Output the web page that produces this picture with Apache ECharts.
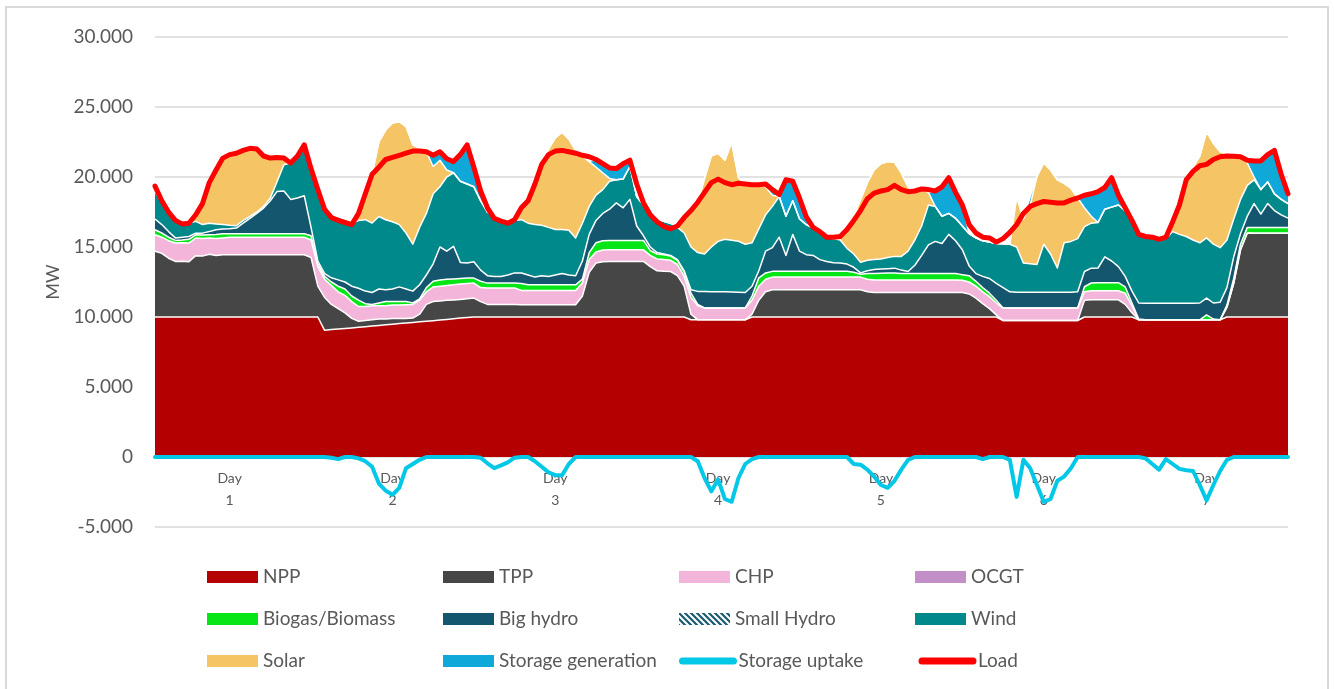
<!DOCTYPE html>
<html>
<head>
<meta charset="utf-8">
<script src="https://cdn.jsdelivr.net/npm/echarts@6/dist/echarts.min.js"></script>
<style>
  html, body { margin: 0; padding: 0; background: #fff; }
  #chart { width: 1334px; height: 689px; }
</style>
</head>
<body>
<div id="chart"></div>
<script>
// one week, hourly values (MW)
const days = ['1', '2', '3', '4', '5', '6', '7'];

const npp = [
  10000,10000,10000,10000,10000,10000,10000,10000,10000,10000,10000,10000,10000,10000,10000,10000,10000,10000,10000,10000,10000,10000,10000,10000,
  10000,9050,9100,9140,9180,9220,9270,9310,9350,9400,9440,9480,9530,9570,9610,9660,9700,9740,9790,9830,9870,9920,9960,10000,
  10000,10000,10000,10000,10000,10000,10000,10000,10000,10000,10000,10000,10000,10000,10000,10000,10000,10000,10000,10000,10000,10000,10000,10000,
  10000,10000,10000,10000,10000,10000,10000,9800,9800,9800,9800,9800,9800,9800,9800,9800,10000,10000,10000,10000,10000,10000,10000,10000,
  10000,10000,10000,10000,10000,10000,10000,10000,10000,10000,10000,10000,10000,10000,10000,10000,10000,10000,10000,10000,10000,10000,10000,10000,
  10000,10000,10000,10000,10000,9750,9750,9750,9750,9750,9750,9750,9750,9750,9750,9750,9750,10000,10000,10000,10000,10000,10000,10000,
  10000,9800,9800,9800,9800,9800,9800,9800,9800,9800,9800,9800,9800,9800,10000,10000,10000,10000,10000,10000,10000,10000,10000,10000
];
const tpp = [
  4700,4550,4200,3970,3980,3950,4380,4350,4480,4400,4450,4450,4450,4450,4450,4450,4450,4450,4450,4450,4450,4450,4450,4250,
  2200,2350,1800,1460,1120,680,430,440,450,450,410,420,370,330,310,540,1200,1360,1360,1370,1350,1330,1340,1350,
  1100,900,900,900,900,900,880,880,880,880,880,880,880,880,880,1500,3200,3850,3950,3970,3970,3970,3970,3970,
  3970,3600,3300,3260,3250,2950,2200,400,0,0,0,0,0,0,0,0,200,1200,1800,1950,1950,1950,1950,1950,
  1950,1950,1950,1950,1950,1950,1950,1950,1950,1800,1750,1750,1750,1750,1750,1750,1750,1750,1750,1750,1750,1750,1750,1750,
  1650,1350,950,600,150,0,0,0,0,0,0,0,0,0,0,0,0,1200,1230,1230,1230,1230,1230,900,
  300,0,0,0,0,0,0,0,0,0,0,0,0,0,700,2400,4800,6000,5990,5990,5990,5990,5990,5990
];
const chp = [
  1170,1150,1250,1310,1320,1330,1260,1250,1170,1200,1200,1250,1250,1250,1250,1250,1250,1250,1250,1250,1250,1250,1250,1250,
  1400,1300,1350,1200,1250,1200,1050,1000,1000,950,950,950,950,980,980,1000,900,1050,1050,1050,1080,1100,1100,1070,
  1000,1170,1170,1170,1170,1170,1020,1020,1020,1020,1020,1020,1020,1020,1020,950,900,800,830,830,830,830,830,830,
  830,800,850,840,800,800,700,1200,1000,850,850,850,850,850,850,850,1000,1000,900,900,900,900,900,900,
  900,900,900,900,900,900,900,900,900,900,900,900,900,900,900,900,900,900,900,900,900,900,900,870,
  850,850,850,850,850,890,890,890,890,890,890,890,890,890,890,890,890,600,650,650,650,650,650,800,
  500,0,0,0,0,0,0,0,0,0,0,0,0,0,0,0,0,0,0,0,0,0,0,0
];
const ocgt = [];
const biogas = [
  360,300,250,190,200,270,230,250,220,300,300,250,250,250,250,250,250,250,250,250,250,250,250,300,
  200,200,250,400,450,400,450,200,100,200,300,250,250,220,100,100,300,400,450,450,420,400,380,360,
  450,350,350,350,350,350,500,400,400,400,400,400,400,400,400,250,500,650,670,670,670,670,670,670,
  670,350,350,350,300,300,300,300,100,0,0,0,0,0,0,0,300,600,450,410,410,410,410,410,
  410,410,410,410,410,410,410,350,200,400,450,480,490,490,450,450,450,450,450,450,450,450,450,400,
  450,350,300,250,200,0,0,0,0,0,0,0,0,0,0,0,0,360,550,570,570,570,570,450,
  200,50,0,0,0,0,0,0,0,0,0,350,50,0,150,350,400,400,410,410,410,410,410,410
];
const bigHydro = [
  770,600,400,180,200,200,120,140,230,330,330,350,400,750,1100,1450,1830,2350,3020,3050,2450,2550,2710,600,
  200,200,300,450,500,700,850,900,850,1000,850,900,1050,900,850,1000,900,1250,2350,2000,2330,1150,1070,1170,
  800,530,480,480,580,730,740,700,550,650,600,700,800,700,650,1300,1300,1600,1950,2230,2680,2330,2930,1030,
  330,250,100,50,50,50,100,250,930,1180,1150,1150,1150,1130,1110,1100,700,500,1550,1690,2440,1140,2640,1440,
  1190,1140,840,710,620,590,520,350,100,200,300,290,310,350,250,150,600,1300,2050,2300,2150,2800,2350,1780,
  700,550,800,1050,1200,1460,1160,1120,1120,1120,1120,1120,1120,1120,1120,1120,1160,1090,1060,1050,1850,1550,1150,750,
  850,1150,1190,1190,1190,1190,1190,1190,1190,1190,1200,1200,1150,1250,1250,1550,750,800,1700,950,1700,1200,900,660
];
const smallHydro = [];
const wind = [
  2000,1600,1400,1350,1000,950,840,610,600,420,320,250,170,200,130,100,120,200,710,1870,2600,3000,3540,4200,
  5000,4600,4400,4530,4500,4450,4850,5100,4960,5180,5000,4800,4450,4000,3350,4100,4400,5000,4300,5300,5250,5800,5650,5350,
  4950,4550,4300,4100,3950,3750,3810,3700,3750,3600,3500,3250,3150,3200,2700,2700,2000,1800,1700,2000,1650,2050,2350,2100,
  2200,2400,2400,2330,2300,2300,2700,3050,2770,2670,3200,3600,3750,3700,3650,3450,3100,3000,2600,2950,2900,2800,2400,2300,
  2150,1950,2130,1730,1720,1650,1120,950,750,750,700,730,800,840,980,1450,1800,2100,2850,2500,1950,1500,1600,1700,
  2300,2550,2550,2600,2850,3130,3400,3240,2090,2040,1990,3440,2740,1740,3540,3640,3800,3200,3210,3250,3400,3850,4400,4700,
  5050,4900,4760,4710,4560,4610,5110,4910,4760,4510,4300,4300,4200,3900,3400,2700,2450,2200,1700,1750,1550,1200,1100,1040
];
const solar = [
  0,0,0,0,0,0,400,1500,2900,3850,4750,5050,5180,5000,4870,4500,3600,2850,1720,480,0,0,0,0,
  0,0,0,0,0,0,400,1850,3490,5320,6400,7050,7350,7600,7100,5650,4400,1950,1900,500,0,0,0,0,
  0,0,0,0,0,200,850,1600,2900,4350,5600,6550,6950,6500,6250,4800,3200,2000,1200,200,0,0,0,0,
  0,0,0,0,0,100,1100,2600,3600,5400,6500,6300,5650,7000,4550,4250,4150,3150,2000,800,0,0,0,0,
  0,0,0,0,0,250,1400,2700,4500,5550,6400,6800,6850,6720,5970,4600,3500,2650,900,0,0,0,0,0,
  0,0,0,0,0,0,0,3600,3150,4200,6290,5800,6000,6300,4250,3800,2900,1350,500,0,0,0,0,0,
  0,0,0,0,0,100,700,2100,4250,5200,6200,7550,7200,6850,6150,4580,3000,1600,200,0,0,0,0,0
];
const storageGen = [
  0,0,0,0,0,0,0,0,0,0,0,0,0,0,0,0,0,0,0,0,0,0,0,0,
  0,0,0,0,0,0,0,0,0,0,0,0,0,0,0,0,0,800,600,800,800,1900,2800,1400,
  700,0,0,0,0,0,0,0,0,0,0,0,0,0,0,0,0,550,650,750,800,1100,450,0,
  0,0,0,0,0,0,0,0,0,0,0,0,0,0,0,0,0,0,200,400,150,2600,1400,1500,
  550,0,0,0,0,0,0,0,0,0,0,0,0,0,0,0,0,0,0,1100,2100,2550,1850,1500,
  0,0,0,0,0,0,0,0,0,600,0,0,0,0,0,0,0,1000,1800,2200,1450,2050,700,200,
  0,0,0,0,0,0,0,0,0,0,0,200,0,0,0,0,0,200,1150,2050,1950,3100,1800,700
];
const storageUptake = [
  0,0,0,0,0,0,0,0,0,0,0,0,0,0,0,0,0,0,0,0,0,0,0,0,
  0,0,-50,-150,0,0,-100,-300,-700,-1900,-2400,-2700,-2200,-800,-500,-200,0,0,0,0,0,0,0,0,
  -50,-450,-790,-600,-380,-50,0,0,-300,-700,-1100,-1300,-1300,-500,0,0,0,0,0,0,0,0,0,0,
  0,0,0,0,0,0,0,0,-300,-1500,-2450,-1600,-3000,-3200,-1500,-500,-150,0,0,0,0,0,0,0,
  0,0,0,0,0,0,0,-500,-550,-900,-1400,-2000,-2200,-1700,-900,-200,0,0,0,0,0,0,0,0,
  0,0,-150,0,0,0,-200,-2850,-200,-800,-2000,-3200,-3000,-1700,-1400,-800,0,0,0,0,0,0,0,0,
  0,0,-100,-500,-900,-150,-500,-850,-950,-1000,-2000,-3100,-2000,-1000,-200,0,0,0,0,0,0,0,0,0
];
const load = [
  19350,18300,17500,16900,16650,16700,17300,18100,19600,20500,21350,21600,21700,21900,22050,22000,21500,21350,21400,21350,21000,21500,22300,20600,
  19100,17700,17100,16900,16750,16600,17400,18800,20200,20700,21250,21400,21550,21700,21850,21850,21800,21550,21800,21300,21100,21600,22300,20700,
  19000,17800,17050,16850,16700,16950,17800,18300,19500,20900,21600,21850,21900,21800,21700,21550,21450,21250,20950,20650,20600,20950,21200,19500,
  18150,17300,16800,16470,16300,16500,17100,17600,18200,18900,19600,19850,19600,19450,19550,19500,19450,19450,19500,19100,18750,19800,19700,18500,
  17150,16400,16100,15700,15700,15750,16250,16900,17600,18450,18850,19000,19100,19400,19100,18950,19000,19150,19100,19000,19300,19950,18900,18000,
  16600,16000,15700,15650,15350,15600,16050,16600,17400,17900,18100,18250,18200,18150,18150,18350,18500,18700,18800,18950,19250,19950,18700,17800,
  16900,15900,15750,15700,15550,15700,16800,18000,19800,20400,20800,20900,21250,21450,21500,21480,21450,21200,21150,21150,21600,21900,20200,18800
];
const yTicks = { min: -5000, max: 30000, step: 5000 };

const categories = [];
days.forEach(d => {
  for (let h = 0; h < 24; h++) categories.push('Day\n' + d);
});

const FONT = 'Lato';
const TEXT = '#595959';

// hatched fill for small hydro
const hatch = document.createElement('canvas');
hatch.width = 6; hatch.height = 6;
(function () {
  const c = hatch.getContext('2d');
  c.fillStyle = '#fff';
  c.fillRect(0, 0, 6, 6);
  c.strokeStyle = '#1B5B70';
  c.lineWidth = 2.2;
  c.beginPath();
  c.moveTo(-3, -3); c.lineTo(9, 9);
  c.moveTo(-3, 3); c.lineTo(3, 9);
  c.moveTo(3, -3); c.lineTo(9, 3);
  c.stroke();
})();
const hatchFill = { image: hatch, repeat: 'repeat' };

const colors = {
  'NPP': '#B40000',
  'TPP': '#464646',
  'CHP': '#F4B5DA',
  'OCGT': '#C38FC9',
  'Biogas/Biomass': '#06E516',
  'Big hydro': '#14566E',
  'Small Hydro': hatchFill,
  'Wind': '#00898A',
  'Solar': '#F5C465',
  'Storage generation': '#0FA8D8',
  'Storage uptake': '#00C8E6',
  'Load': '#FF0000'
};

function area(name, data) {
  return {
    name: name,
    type: 'line',
    stack: 'gen',
    data: data,
    symbol: 'none',
    color: colors[name],
    lineStyle: { color: '#fff', width: 1.5, join: 'round' },
    areaStyle: { color: colors[name], opacity: 1 },
    emphasis: { disabled: true },
    z: 2
  };
}

function line(name, data, width, z) {
  return {
    name: name,
    type: 'line',
    data: data,
    symbol: 'none',
    color: colors[name],
    lineStyle: { color: colors[name], width: width, join: 'round', cap: 'round' },
    emphasis: { disabled: true },
    z: z
  };
}

function legendItem(name) {
  if (name === 'Storage uptake' || name === 'Load') {
    return { name: name, itemStyle: { opacity: 0 }, lineStyle: { color: colors[name], width: 7, cap: 'round' } };
  }
  return { name: name, icon: 'rect', itemStyle: { color: colors[name], borderWidth: 0 } };
}

const rows = [
  ['NPP', 'TPP', 'CHP', 'OCGT'],
  ['Biogas/Biomass', 'Big hydro', 'Small Hydro', 'Wind'],
  ['Solar', 'Storage generation', 'Storage uptake', 'Load']
];

const legends = rows.map((r, k) => ({
  left: 202,
  top: 560 + k * 42,
  orient: 'horizontal',
  itemWidth: 51,
  itemHeight: 12,
  itemGap: 5,
  selectedMode: false,
  data: r.map(legendItem),
  textStyle: { color: TEXT, fontFamily: FONT, fontSize: 19, width: 175, overflow: 'truncate', lineHeight: 24 }
}));

const chart = echarts.init(document.getElementById('chart'), null, { renderer: 'canvas' });

chart.setOption({
  animation: false,
  backgroundColor: '#fff',
  textStyle: { fontFamily: FONT },
  graphic: [{
    type: 'rect',
    silent: true,
    z: -10,
    shape: { x: 6, y: 7, width: 1322, height: 700 },
    style: { fill: 'transparent', stroke: '#d9d9d9', lineWidth: 2 }
  }],
  grid: { left: 155, right: 46, top: 37, bottom: 162 },
  legend: legends,
  xAxis: {
    type: 'category',
    data: categories,
    boundaryGap: false,
    axisTick: { show: false },
    axisLine: { show: false },
    axisLabel: {
      interval: (i) => i % 24 === 11,
      color: TEXT,
      fontFamily: FONT,
      fontSize: 14,
      lineHeight: 22,
      margin: -60
    },
    splitLine: { show: false }
  },
  yAxis: {
    type: 'value',
    min: yTicks.min,
    max: yTicks.max,
    interval: yTicks.step,
    name: 'MW',
    nameLocation: 'middle',
    nameGap: 92,
    nameTextStyle: { color: TEXT, fontFamily: FONT, fontSize: 18, padding: [0, 0, 0, 0] },
    axisLine: { show: false },
    axisTick: { show: false },
    axisLabel: {
      color: TEXT,
      fontFamily: FONT,
      fontSize: 19,
      margin: 22,
      formatter: (v) => v === 0 ? '0' : (v / 1000).toFixed(3)
    },
    splitLine: { lineStyle: { color: '#d9d9d9', width: 1.5 } }
  },
  series: [
    area('NPP', npp),
    area('TPP', tpp),
    area('CHP', chp),
    area('OCGT', ocgt),
    area('Biogas/Biomass', biogas),
    area('Big hydro', bigHydro),
    area('Small Hydro', smallHydro),
    area('Wind', wind),
    area('Solar', solar),
    area('Storage generation', storageGen),
    line('Storage uptake', storageUptake, 4, 6),
    line('Load', load, 5, 7)
  ]
});
</script>
</body>
</html>
